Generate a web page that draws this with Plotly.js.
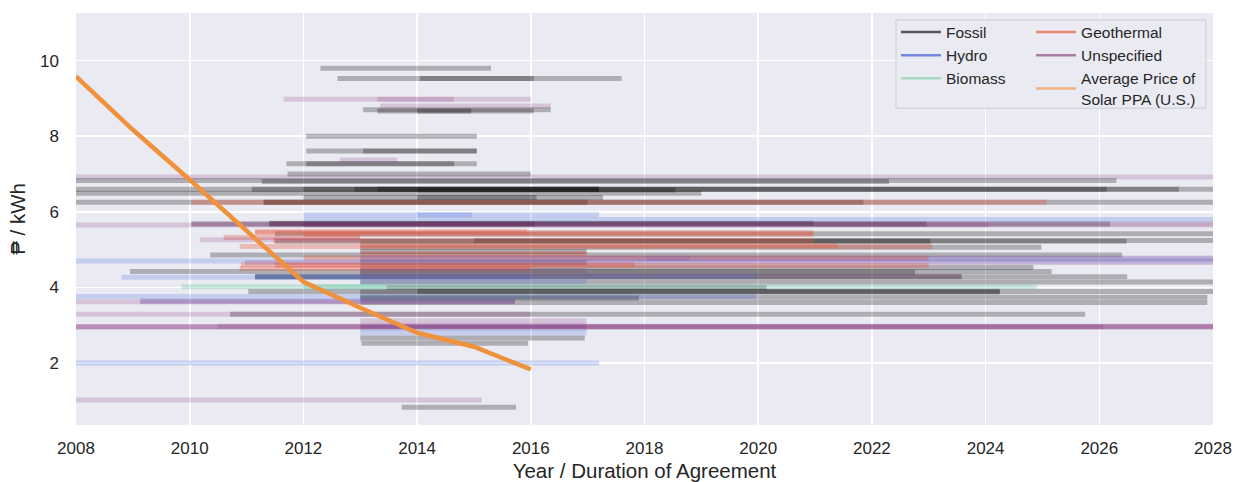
<!DOCTYPE html>
<html><head><meta charset="utf-8">
<script src="https://cdn.plot.ly/plotly-3.0.1.min.js"></script>
<style>html,body{margin:0;padding:0;background:#fff}</style>
</head><body><div id="chart" style="width:1236px;height:482px"></div>
<script>
// Each contract: [price (PHP/kWh), start year, end year]
const fossil = [
  [9.80, 2012.3, 2015.3], [9.53, 2012.6, 2017.6], [9.53, 2014.05, 2016.05],
  [8.70, 2013.05, 2016.35], [8.67, 2013.3, 2016.05], [8.67, 2014.0, 2014.95],
  [8.00, 2012.05, 2015.05], [7.61, 2012.05, 2015.05], [7.61, 2013.05, 2015.05],
  [7.27, 2011.7, 2015.05], [7.27, 2012.05, 2014.65], [7.00, 2011.72, 2016.0],
  [6.83, 2008, 2026.3], [6.80, 2011.27, 2022.3],
  [6.60, 2008, 2028], [6.60, 2011.09, 2027.4], [6.60, 2012.0, 2026.13],
  [6.60, 2012.9, 2017.2], [6.60, 2013.3, 2017.2], [6.58, 2014.0, 2018.54],
  [6.49, 2008, 2019.0], [6.38, 2012.0, 2017.27], [6.38, 2014.0, 2016.1],
  [6.25, 2008, 2028], [6.25, 2011.3, 2021.85], [6.25, 2011.3, 2017.0],
  [5.68, 2010.03, 2026.19], [5.68, 2011.4, 2022.96], [5.70, 2011.4, 2020.97],
  [5.68, 2012.0, 2016.07], [5.42, 2011.5, 2028],
  [5.22, 2011.5, 2026.48], [5.22, 2013.0, 2023.03], [5.24, 2015.0, 2028],
  [5.06, 2013.0, 2024.98], [4.95, 2013.0, 2016.98], [4.86, 2010.36, 2026.4],
  [4.65, 2013.0, 2016.98], [4.53, 2013.0, 2024.84],
  [4.42, 2008.95, 2025.16], [4.40, 2013.0, 2022.76],
  [4.28, 2011.15, 2026.49], [4.28, 2011.15, 2023.58], [4.14, 2013.0, 2028],
  [4.00, 2013.46, 2020.15], [3.89, 2011.03, 2028], [3.88, 2013.0, 2024.25],
  [3.90, 2014.0, 2024.25], [3.74, 2013.0, 2027.9], [3.72, 2013.0, 2017.9],
  [3.60, 2013.0, 2027.9], [3.29, 2010.71, 2025.75],
  [2.66, 2013.0, 2016.95], [2.52, 2013.02, 2015.95], [0.83, 2013.73, 2015.74]
];
const hydro = [
  [5.92, 2012.0, 2017.2], [5.92, 2014.0, 2014.97], [5.80, 2012.0, 2028],
  [4.76, 2013.0, 2028], [4.77, 2018.04, 2018.8], [4.70, 2008, 2028],
  [4.27, 2008.8, 2016.0], [4.28, 2011.15, 2020.0], [4.15, 2013.0, 2016.98],
  [3.76, 2008, 2019.97], [3.64, 2009.13, 2015.72],
  [2.92, 2013.0, 2016.98], [2.80, 2013.0, 2016.98], [2.00, 2008, 2017.2]
];
const biomass = [
  [4.02, 2009.86, 2024.9], [4.02, 2012.0, 2013.46]
];
const geothermal = [
  [6.25, 2010.03, 2025.07], [5.47, 2011.15, 2015.93], [5.45, 2011.15, 2020.97],
  [5.40, 2012.0, 2020.97], [5.32, 2010.6, 2013.0], [5.24, 2011.47, 2020.97],
  [5.08, 2010.88, 2023.06], [5.10, 2013.0, 2021.4], [4.90, 2013.0, 2016.98],
  [4.78, 2012.0, 2022.99], [4.60, 2010.9, 2017.83], [4.58, 2011.5, 2023.0],
  [4.50, 2010.88, 2016.0]
];
const unspecified = [
  [8.98, 2011.65, 2016.0], [8.98, 2013.3, 2014.65], [8.80, 2013.35, 2016.35],
  [7.37, 2012.65, 2013.65], [6.92, 2008, 2028],
  [5.65, 2008, 2028], [5.68, 2010.03, 2028], [5.68, 2011.4, 2016.07], [5.66, 2012.0, 2024.05],
  [5.26, 2010.18, 2013.0], [4.78, 2013.0, 2028], [4.66, 2010.97, 2028],
  [4.45, 2013.0, 2016.98], [4.30, 2013.0, 2023.58], [3.62, 2008, 2015.72], [3.62, 2009.13, 2015.72],
  [3.29, 2008, 2016.0], [3.12, 2013.0, 2016.98],
  [2.96, 2008, 2028], [2.96, 2008, 2026.07], [2.95, 2008, 2028], [2.97, 2010.5, 2028],
  [2.96, 2013.0, 2028], [3.00, 2013.0, 2016.98], [1.02, 2008, 2015.14]
];
const solarYears = [2008, 2009, 2010, 2011, 2012, 2013, 2014, 2015, 2016];
const solarPrice = [9.58, 8.17, 6.85, 5.5, 4.15, 3.46, 2.8, 2.43, 1.83];
const xTickVals = [2008, 2010, 2012, 2014, 2016, 2018, 2020, 2022, 2024, 2026, 2028];
const yTickVals = [2, 4, 6, 8, 10];

const seriesStyle = [
  {name: 'Fossil', data: fossil, color: '#000000', alpha: 0.26, legendColor: '#58585c', legend: 'legend'},
  {name: 'Hydro', data: hydro, color: '#4169e1', alpha: 0.22, legendColor: '#7389e0', legend: 'legend'},
  {name: 'Biomass', data: biomass, color: '#5fc8a0', alpha: 0.3, legendColor: '#a8d8c4', legend: 'legend'},
  {name: 'Geothermal', data: geothermal, color: '#e8553c', alpha: 0.32, legendColor: '#ef8470', legend: 'legend2'},
  {name: 'Unspecified', data: unspecified, color: '#8b3a80', alpha: 0.21, legendColor: '#a67ea6', legend: 'legend2'}
];

const traces = [];
seriesStyle.forEach(s => {
  s.data.forEach(seg => {
    traces.push({
      type: 'scatter', mode: 'lines',
      x: [seg[1], seg[2]], y: [seg[0], seg[0]],
      line: {color: s.color, width: 5},
      opacity: s.alpha, showlegend: false, hoverinfo: 'skip'
    });
  });
});
traces.push({
  type: 'scatter', mode: 'lines', x: solarYears, y: solarPrice,
  line: {color: '#f0913c', width: 4.5}, showlegend: false, hoverinfo: 'skip'
});
seriesStyle.forEach(s => {
  traces.push({type: 'scatter', mode: 'lines', x: [null], y: [null], name: s.name,
    line: {color: s.legendColor, width: 2.5}, legend: s.legend, hoverinfo: 'skip'});
});
traces.push({type: 'scatter', mode: 'lines', x: [null], y: [null],
  name: 'Average Price of<br>Solar PPA (U.S.)',
  line: {color: '#f3b184', width: 2.5}, legend: 'legend2', hoverinfo: 'skip'});

const font = 'Arial, "Liberation Sans", "DejaVu Sans", sans-serif';
const layout = {
  width: 1236, height: 482,
  margin: {l: 76, r: 23, t: 13, b: 57},
  paper_bgcolor: '#ffffff', plot_bgcolor: '#eaeaf2',
  font: {family: font, color: '#262626'},
  xaxis: {
    range: [2008, 2028], tickvals: xTickVals, showgrid: true, gridcolor: '#ffffff', gridwidth: 1.6,
    zeroline: false, showline: false, ticks: '', tickfont: {size: 17}, ticklabelstandoff: 11,
    title: {text: 'Year / Duration of Agreement', font: {size: 20.5}, standoff: 8}
  },
  yaxis: {
    range: [0.36, 11.26], tickvals: yTickVals, showgrid: true, gridcolor: '#ffffff', gridwidth: 1.6,
    zeroline: false, showline: false, ticks: '', tickfont: {size: 17}, ticklabelstandoff: 16,
    title: {text: '₱ / kWh', font: {size: 20.5}, standoff: 8}
  },
  showlegend: true,
  legend: {x: 0.7212, y: 0.994, xanchor: 'left', yanchor: 'top', bgcolor: 'rgba(0,0,0,0)',
    itemwidth: 40, font: {size: 15.5, family: font, color: '#262626'}, borderwidth: 0},
  legend2: {x: 0.84, y: 0.994, xanchor: 'left', yanchor: 'top', bgcolor: 'rgba(0,0,0,0)',
    itemwidth: 40, font: {size: 15.5, family: font, color: '#262626'}, borderwidth: 0},
  shapes: [{type: 'rect', xref: 'paper', yref: 'paper', x0: 0.7212, x1: 0.9938, y0: 0.769, y1: 0.983,
    layer: 'above', fillcolor: 'rgba(234,234,242,0.85)', line: {color: '#cdcdd4', width: 1}}]
};
Plotly.newPlot('chart', traces, layout, {displayModeBar: false, staticPlot: true});
</script></body></html>
